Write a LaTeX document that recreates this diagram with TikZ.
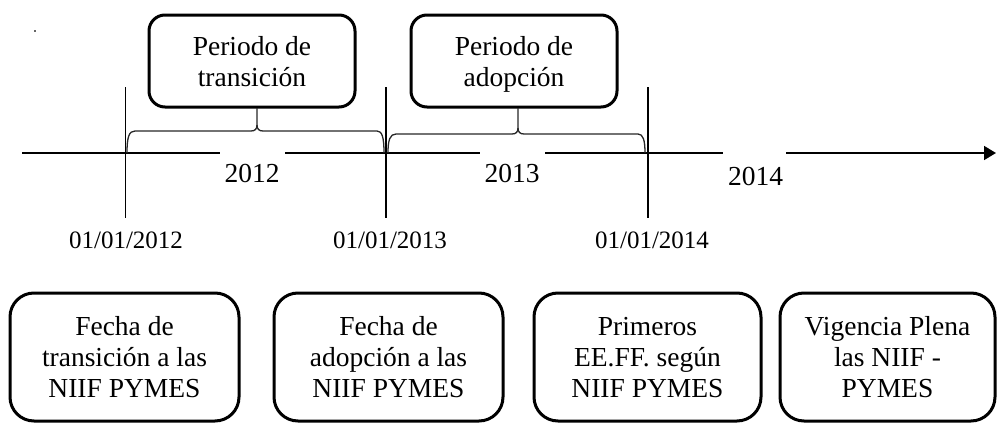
\documentclass[tikz,border=0pt]{standalone}
\usepackage{fontspec}
\setmainfont{Liberation Serif}
\usetikzlibrary{arrows.meta}
\begin{document}
\begin{tikzpicture}[x=1pt,y=-1pt,
  topbox/.style={draw, line width=3pt, rounded corners=16pt, minimum width=206pt, minimum height=92pt, align=center, font=\fontsize{27.5}{31}\selectfont, inner sep=0pt, text depth=0pt},
  botbox/.style={draw, line width=3pt, rounded corners=24pt, minimum height=128pt, align=center, font=\fontsize{27.5}{31}\selectfont, inner sep=0pt, text depth=0pt},
  tickline/.style={line width=1.4pt},
  axisline/.style={line width=1.6pt},
  bracepath/.style={line width=1.3pt, draw=black!85},
  yearlbl/.style={font=\fontsize{27.5}{31}\selectfont, inner sep=0pt},
  datelbl/.style={font=\fontsize{25}{28}\selectfont, inner sep=0pt}
]
\useasboundingbox (0,0) rectangle (997,423);

% stray dot
\fill[black!60] (34,30) rectangle (36,32);

% top boxes
\node[topbox] (tb1) at (252,61) {Periodo de\\transición};
\node[topbox] (tb2) at (514,61) {Periodo de\\adopción};

% ticks
\coordinate (t1a) at (125.5,87); \coordinate (t1b) at (125.5,218);
\coordinate (t2a) at (386,87);   \coordinate (t2b) at (386,218);
\coordinate (t3a) at (648,87);   \coordinate (t3b) at (648,218);
\draw[tickline] (t1a) -- (t1b);
\draw[tickline] (t2a) -- (t2b);
\draw[tickline] (t3a) -- (t3b);

% year labels
\node[yearlbl] (y12) at (252,173) {2012};
\node[yearlbl] (y13) at (512,173) {2013};
\node[yearlbl] (y14) at (755.5,176) {2014};

% axis
\coordinate (ax0) at (22,153);
\coordinate (ax1) at (220,153);
\coordinate (ax2) at (285,153);
\coordinate (ax3) at (480,153);
\coordinate (ax4) at (545,153);
\coordinate (ax5) at (723,153);
\coordinate (ax6) at (786,153);
\coordinate (ax7) at (996,153);
\draw[axisline] (ax0) -- (ax1);
\draw[axisline] (ax2) -- (ax3);
\draw[axisline] (ax4) -- (ax5);
\draw[axisline,-{Triangle[length=12pt,width=14pt]}] (ax6) -- (ax7);

% braces
\draw[bracepath] (127,153) .. controls (127,137) and (129,131) .. (135,131) -- (251,131)
  .. controls (255,131) and (257,129) .. (257,125) -- (257,108);
\draw[bracepath] (257,125) .. controls (257,129) and (259,131) .. (263,131) -- (377,131)
  .. controls (382,131) and (384,137) .. (384,153);
\draw[bracepath] (388,153) .. controls (388,140) and (390,134) .. (396,134) -- (512,134)
  .. controls (516,134) and (518,132) .. (518,128) -- (518,108);
\draw[bracepath] (518,128) .. controls (518,132) and (520,134) .. (524,134) -- (638,134)
  .. controls (643,134) and (645,140) .. (645,153);

% dates
\node[datelbl] (d12) at (126,240) {01/01/2012};
\node[datelbl] (d13) at (390,240) {01/01/2013};
\node[datelbl] (d14) at (652,240) {01/01/2014};

% bottom boxes
\node[botbox, minimum width=229pt] (bb1) at (124.5,357) {Fecha de\\transición a las\\NIIF PYMES};
\node[botbox, minimum width=229pt] (bb2) at (388.5,357) {Fecha de\\adopción a las\\NIIF PYMES};
\node[botbox, minimum width=227pt] (bb3) at (647.5,357) {Primeros\\EE.FF. según\\NIIF PYMES};
\node[botbox, minimum width=215pt] (bb4) at (887.5,357) {Vigencia Plena\\las NIIF -\\PYMES};
\end{tikzpicture}
\end{document}
